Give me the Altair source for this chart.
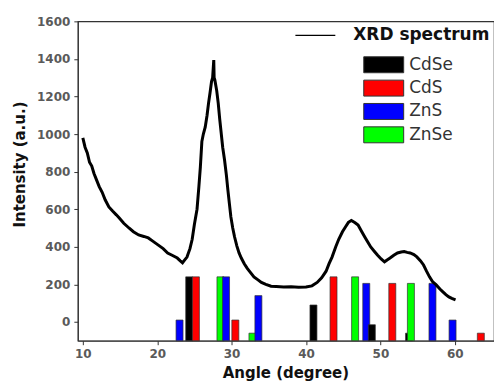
import altair as alt
import pandas as pd

# ---- XRD spectrum ----
angle = [10.0, 10.3, 10.6, 10.9, 11.2, 11.5, 11.8, 12.2, 12.6, 13.0, 13.5, 14.0, 14.5, 14.9,
         15.5, 16.2, 16.8, 17.5, 18.2, 18.8, 19.4, 20.1, 20.8, 21.4, 22.0, 22.7, 23.1, 23.4,
         23.7, 24.0, 24.4, 24.7, 25.0, 25.35, 25.6, 25.8, 26.0, 26.2, 26.45, 26.7, 26.9, 27.1,
         27.3, 27.45, 27.6, 27.65, 27.75, 28.0, 28.2, 28.4, 28.6, 28.8, 29.05, 29.3, 29.5,
         29.7, 29.9, 30.15, 30.4, 30.7, 31.0, 31.3, 31.7, 32.1, 32.6, 33.0, 33.5, 34.0, 34.6,
         35.3, 36.0, 37.0, 38.0, 39.0, 40.0, 40.8, 41.5, 42.1, 42.7, 43.1, 43.5, 44.0, 44.4,
         44.9, 45.3, 45.7, 46.1, 46.6, 47.0, 47.5, 47.9, 48.3, 48.7, 49.2, 49.6, 50.1, 50.55,
         50.9, 51.3, 51.8, 52.3, 52.8, 53.2, 53.6, 54.0, 54.5, 54.9, 55.4, 55.8, 56.2, 56.6,
         57.0, 57.5, 58.0, 58.4, 58.8, 59.2, 59.6, 60.1]
intensity = [980, 930, 900, 850, 830, 790, 760, 720, 690, 650, 612, 590, 570, 553,
             525, 500, 480, 463, 455, 447, 430, 410, 390, 367, 355, 340, 325, 315,
             330, 345, 390, 440, 520, 600, 720, 825, 960, 1000, 1037, 1100, 1165, 1220,
             1280, 1300, 1394, 1300, 1287, 1230, 1165, 1080, 1005, 930, 862, 780, 702,
             630, 559, 500, 452, 405, 367, 340, 310, 285, 260, 240, 225, 210, 200,
             190, 188, 186, 187, 185, 186, 192, 210, 235, 270, 310, 345, 400, 440,
             480, 505, 530, 540, 528, 516, 480, 452, 425, 399, 375, 356, 335, 320,
             330, 340, 355, 367, 372, 375, 370, 367, 358, 346, 325, 303, 270, 240,
             215, 197, 175, 160, 145, 133, 125, 117]
series_name = "XRD spectrum"

# ---- reference peaks ----
bar_angle = [23.0, 24.3, 25.2, 28.5, 29.25, 30.5, 32.8, 33.6, 41.0, 43.7, 46.6, 48.1,
             48.85, 51.6, 53.85, 54.1, 57.0, 59.7, 63.5]
bar_value = [10, 240, 240, 240, 240, 10, -60, 140, 90, 240, 240, 205,
             -15, 205, -60, 205, 205, 10, -60]
bar_phase = ["ZnS", "CdSe", "CdS", "ZnSe", "ZnS", "CdS", "ZnSe", "ZnS", "CdSe", "CdS", "ZnSe", "ZnS",
             "CdSe", "CdS", "CdSe", "ZnSe", "ZnS", "ZnS", "CdS"]
phases = ["CdSe", "CdS", "ZnS", "ZnSe"]
phase_colors = ["#000000", "#ff0000", "#0000ff", "#00ff00"]

x_ticks = [10, 20, 30, 40, 50, 60]
y_ticks = [0, 200, 400, 600, 800, 1000, 1200, 1400, 1600]

spec_df = pd.DataFrame({"angle": angle, "intensity": intensity, "series": series_name})
bar_df = pd.DataFrame({"angle": bar_angle, "value": bar_value, "phase": bar_phase})

xscale = alt.Scale(domain=[10, 64.6], nice=False, zero=False)
yscale = alt.Scale(domain=[-100, 1600], nice=False, zero=False)

xaxis = alt.Axis(values=x_ticks, title="Angle (degree)", grid=False, format="d",
                 labelOverlap=False,
                 labelFont="DejaVu Sans", labelFontWeight="bold", labelFontSize=12,
                 labelColor="#5a5a5a", tickColor="#333", domainColor="#333",
                 tickSize=4, labelPadding=4, titleFont="DejaVu Sans", titleFontWeight="bold",
                 titleFontSize=15, titleColor="#111", titlePadding=6, titleX=208)
yaxis = alt.Axis(values=y_ticks, title="Intensity (a.u.)", grid=False, format="d",
                 labelOverlap=False, labelFlush=False, tickCount=9,
                 labelFont="DejaVu Sans", labelFontWeight="bold", labelFontSize=12,
                 labelColor="#5a5a5a", tickColor="#333", domainColor="#333",
                 tickSize=4, labelPadding=4, titleFont="DejaVu Sans", titleFontWeight="bold",
                 titleFontSize=15, titleColor="#111", titleX=-58, titleY=143,
                 titleBaseline="middle")

bars = alt.Chart(bar_df).mark_bar(size=7, stroke="#333", strokeWidth=0.7).encode(
    x=alt.X("angle:Q", scale=xscale, axis=xaxis),
    y=alt.Y("value:Q", scale=yscale, axis=yaxis),
    y2=alt.datum(-100),
    fill=alt.Fill("phase:N", scale=alt.Scale(domain=phases, range=phase_colors),
                  legend=alt.Legend(title=None, orient="none", legendX=298, legendY=35,
                                    symbolType="M-2.5,-1L2.5,-1L2.5,1L-2.5,1Z", symbolSize=256,
                                    labelOffset=17, rowPadding=2.4, padding=0,
                                    labelFont="DejaVu Sans", labelFontSize=17, labelColor="#333",
                                    symbolStrokeColor="#333", symbolStrokeWidth=1,
                                    symbolOpacity=1)),
)

line = alt.Chart(spec_df).mark_line(strokeWidth=3, interpolate="linear").encode(
    x=alt.X("angle:Q", scale=xscale, axis=xaxis),
    y=alt.Y("intensity:Q", scale=yscale, axis=yaxis),
    stroke=alt.Stroke("series:N", scale=alt.Scale(domain=[series_name], range=["#000000"]),
                      legend=alt.Legend(title=None, orient="none", legendX=229, legendY=5,
                                        symbolType="M-2.5,0L2.5,0", symbolSize=256,
                                        symbolStrokeWidth=1.3, labelOffset=29, padding=0,
                                        labelFont="DejaVu Sans", labelFontWeight="bold",
                                        labelFontSize=17, labelColor="#111")),
)

chart = alt.layer(bars, line).resolve_legend(fill="independent", stroke="independent").properties(
    width=417, height=320,
    autosize=alt.AutoSizeParams(type="none"),
    padding={"left": 78, "top": 21, "right": 0, "bottom": 44},
    background="white",
).configure_view(stroke="#333", strokeWidth=1.2)

chart.save("out.html", embed_options={"renderer": "svg", "actions": False})
